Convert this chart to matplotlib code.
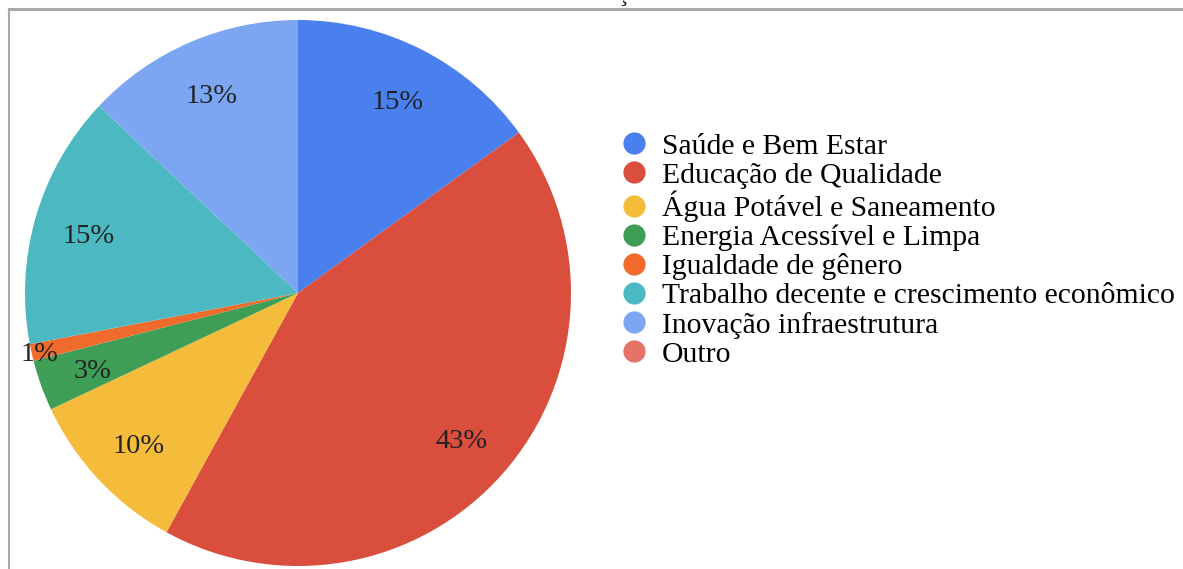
import numpy as np
import matplotlib
matplotlib.use("Agg")
import matplotlib.pyplot as plt
from matplotlib.lines import Line2D

# share of projects by goal (percent), clockwise from 12 o'clock
categorias = [
    "Saúde e Bem Estar",
    "Educação de Qualidade",
    "Água Potável e Saneamento",
    "Energia Acessível e Limpa",
    "Igualdade de gênero",
    "Trabalho decente e crescimento econômico",
    "Inovação infraestrutura",
    "Outro",
]
percentuais = [15, 43, 10, 3, 1, 15, 13, 0]
cores = ["#4a80ee", "#d94e3d", "#f4bc3a", "#3e9e55",
         "#f06a2c", "#4cb9c2", "#7ca6f2", "#e57368"]

plt.rcParams["font.family"] = ["Liberation Serif", "DejaVu Serif"]

W, H = 1183, 569
fig = plt.figure(figsize=(W / 100, H / 100), dpi=100)
fig.patch.set_facecolor("white")

# pie axes: centre (298, 293) px from top-left, radius 273 px
cx, cy, r = 298, H - 293, 273
ax = fig.add_axes([(cx - r) / W, (cy - r) / H, 2 * r / W, 2 * r / H])

wedges, _ = ax.pie(percentuais, colors=cores, startangle=90, counterclock=False,
                   radius=1, wedgeprops=dict(linewidth=0))
# pie() pads the limits to 1.25, keep the disc filling the axes
ax.set_xlim(-1, 1)
ax.set_ylim(-1, 1)
ax.axis("off")

# percentage labels, small slices are pushed towards the rim
total = sum(percentuais)
inicio = 0.0
for v in percentuais:
    meio = (inicio + v / 2) / total * 2 * np.pi
    inicio += v
    if v == 0:
        continue
    d = 0.97 if v < 2 else 0.80
    ax.text(d * np.sin(meio), d * np.cos(meio) - 0.015, f"{v}%", ha="center", va="center",
            fontsize=20.5, color="#222222")

# legend with round markers
handles = [Line2D([], [], marker="o", linestyle="none", markersize=16,
                  markerfacecolor=c, markeredgewidth=0) for c in cores]
fig.legend(handles, categorias, loc="upper left",
           bbox_to_anchor=(619 / W, 1 - 133 / H), frameon=False,
           fontsize=21.3, labelspacing=0.075, handlelength=1.0,
           handletextpad=0.45, borderpad=0, borderaxespad=0)

# outer frame of the chart area
fig.add_artist(Line2D([9 / W, 1.0], [1 - 9 / H, 1 - 9 / H], transform=fig.transFigure,
                      color="#a8a8a8", linewidth=2.2))
fig.add_artist(Line2D([9 / W, 9 / W], [0.0, 1 - 9 / H], transform=fig.transFigure,
                      color="#a8a8a8", linewidth=1.5))

# cedilla left over from the title line above
fig.text(623 / W, 1 - 0.5 / H, "\u00b8", ha="center", va="baseline", fontsize=18, color="#222222")

fig.savefig("out.png", dpi=100, facecolor="white")
